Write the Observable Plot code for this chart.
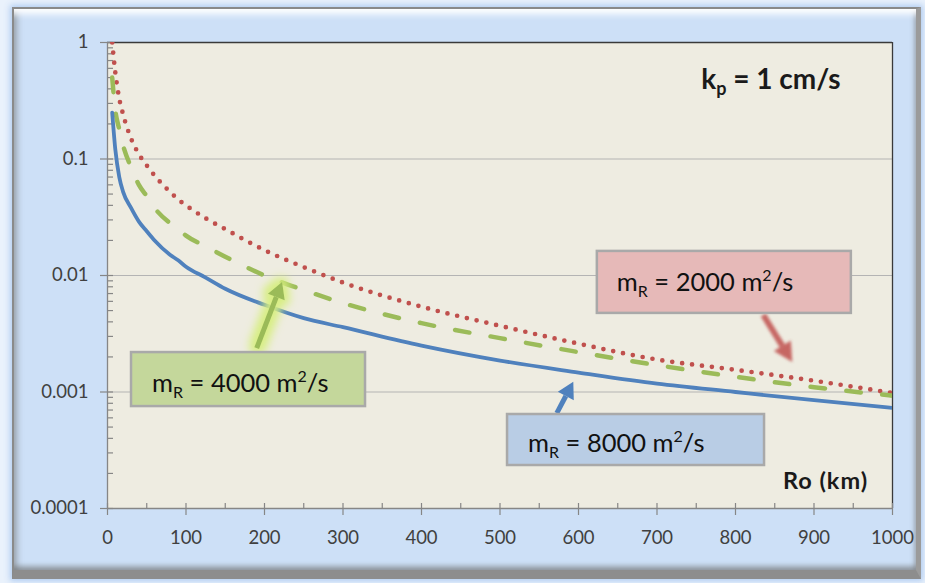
<!DOCTYPE html>
<html>
<head>
<meta charset="utf-8">
<script src="https://cdn.jsdelivr.net/npm/d3@7"></script>
<script src="https://cdn.jsdelivr.net/npm/@observablehq/plot@0.6"></script>
<style>
  html, body { margin: 0; padding: 0; }
  body { width: 925px; height: 583px; background: #eaf2fc; position: relative; overflow: hidden; font-family: Lato, "Open Sans", sans-serif; }
  #frame {
    position: absolute; left: 12px; top: 7px; width: 902px; height: 561px;
    background: #cde0f7;
    border-left: 2px solid #8a8a8a; border-top: 2px solid #8a8a8a;
    border-right: 5px solid #9b9b9b; border-bottom: 9px solid #8d8d8d;
    box-shadow: 0 0 6px 2px rgba(170,200,240,0.9),
      inset 0 11px 7px -6px #ffffff,
      inset 9px 0 6px -6px rgba(110,110,110,0.55),
      inset -5px 0 4px -3px rgba(120,120,120,0.5),
      inset 0 -7px 5px -3px rgba(110,110,110,0.6);
  }
  #chart { position: absolute; left: 0; top: 0; }
</style>
</head>
<body>
<div id="frame"></div>
<div id="chart"></div>
<script>
// ---- data ----
const ro = [6, 10, 15, 20, 30, 40, 50, 60, 80, 90, 100, 125, 150, 200, 250, 300, 400, 500, 600, 700, 800, 900, 1000];
const m8000 = [0.25, 0.12, 0.07, 0.052, 0.038, 0.029, 0.024, 0.02, 0.015, 0.0135, 0.0119, 0.0096, 0.0077, 0.0056, 0.0043, 0.0036, 0.0025, 0.00186, 0.00147, 0.00118, 0.001, 0.00085, 0.00073];
const m4000 = [0.5, 0.26, 0.18, 0.13, 0.085, 0.06, 0.048, 0.038, 0.028, 0.025, 0.022, 0.0178, 0.0145, 0.01, 0.0075, 0.0058, 0.0039, 0.0029, 0.0022, 0.0017, 0.00135, 0.0011, 0.00093];
const m2000 = [1.0, 0.55, 0.33, 0.24, 0.15, 0.11, 0.088, 0.072, 0.052, 0.045, 0.04, 0.031, 0.025, 0.0165, 0.0118, 0.0087, 0.0054, 0.0037, 0.0026, 0.0019, 0.00155, 0.00125, 0.00098];
const seriesNames = ["2000", "4000", "8000"];
const xTicks = [0, 100, 200, 300, 400, 500, 600, 700, 800, 900, 1000];
const xMinorTicks = [50, 150, 250, 350, 450, 550, 650, 750, 850, 950];
const yTicks = [0.0001, 0.001, 0.01, 0.1, 1];
const yTickLabels = ["0.0001", "0.001", "0.01", "0.1", "1"];
const yMinorTicks = [];
for (let e = -4; e < 0; e++) for (let k = 2; k <= 9; k++) yMinorTicks.push(+(k * Math.pow(10, e)).toPrecision(3));
const yGrid = [0.001, 0.01, 0.1];

const rows = [];
ro.forEach((x, i) => {
  rows.push({ro: x, v: m2000[i], s: "2000"});
  rows.push({ro: x, v: m4000[i], s: "4000"});
  rows.push({ro: x, v: m8000[i], s: "8000"});
});

// annotations (anchored in data coordinates)
const labels = [
  {s: "4000", box: [30.6, 0.00218], w: 234, h: 54, fill: "#C4D79B", tx: 21, ty: 40, num: "4000"},
  {s: "2000", box: [624, 0.0161], w: 254, h: 62, fill: "#E6B9B8", tx: 20, ty: 40, num: "2000"},
  {s: "8000", box: [509.6, 0.000641], w: 257, h: 51, fill: "#B9CDE5", tx: 21, ty: 38, num: "8000"}
];
const arrows = [
  {from: [190.7, 0.00236], to: [223, 0.0087], color: "#9BBB59", glow: "green"},
  {from: [836, 0.00454], to: [873, 0.00179], color: "#C0504D", glow: "red"},
  {from: [573, 0.000653], to: [594, 0.00121], color: "#4F81BD", glow: "none"}
];

const font = "Lato, 'Open Sans', sans-serif";
const axisGray = "#868686";
const textColor = "#404040";

const plot = Plot.plot({
  width: 925,
  height: 583,
  marginLeft: 107,
  marginRight: 33,
  marginTop: 42,
  marginBottom: 75,
  style: {background: "transparent", fontFamily: font, overflow: "visible"},
  x: {domain: [0, 1000], label: null},
  y: {type: "log", domain: [0.0001, 1], label: null},
  color: {domain: seriesNames, range: ["#C0504D", "#9BBB59", "#4F81BD"]},
  marks: [
    Plot.frame({fill: "#EEECE1", stroke: "none"}),
    Plot.ruleY(yGrid, {stroke: "#b4b4b4", strokeWidth: 1.2}),
    Plot.ruleY([1], {stroke: "#3a3a3a", strokeWidth: 1.3}),
    Plot.ruleX([1000], {stroke: "#3a3a3a", strokeWidth: 1.3}),
    Plot.ruleX([0], {stroke: axisGray, strokeWidth: 1.3}),
    Plot.ruleY([0.0001], {stroke: axisGray, strokeWidth: 1.3}),
    // y axis ticks
    Plot.axisY({ticks: yTicks, tickSize: 13, dx: 6, text: null, label: null, stroke: axisGray, strokeWidth: 1.2}),
    Plot.axisY({ticks: yMinorTicks, tickSize: 6, dx: 6, text: null, label: null, stroke: axisGray, strokeWidth: 1.2}),
    Plot.axisY({ticks: yTicks, tickSize: 0, tickPadding: 19, tickFormat: (d) => yTickLabels[yTicks.indexOf(d)], fontSize: 18.5, fill: textColor, label: null}),
    // x axis ticks
    Plot.axisX({ticks: xTicks, tickSize: 12, dy: -5, text: null, label: null, stroke: axisGray, strokeWidth: 1.2}),
    Plot.axisX({ticks: xMinorTicks, tickSize: 5, dy: -5, text: null, label: null, stroke: axisGray, strokeWidth: 1.2}),
    Plot.axisX({ticks: xTicks, tickSize: 0, tickPadding: 22, tickFormat: (d) => String(d), fontSize: 18.5, fill: textColor, label: null}),
    // curves
    Plot.line(rows.filter(d => d.s === "2000"), {x: "ro", y: "v", stroke: "s", strokeWidth: 4.7, strokeDasharray: "0 10", strokeLinecap: "round", curve: "monotone-x", clip: true}),
    Plot.line(rows.filter(d => d.s === "4000"), {x: "ro", y: "v", stroke: "s", strokeWidth: 4.5, strokeDasharray: "14.5 21.5", strokeLinecap: "round", curve: "monotone-x", clip: true}),
    Plot.line(rows.filter(d => d.s === "8000"), {x: "ro", y: "v", stroke: "s", strokeWidth: 3.8, curve: "monotone-x", clip: true})
  ]
});

document.getElementById("chart").appendChild(plot);

const sx = plot.scale("x"), sy = plot.scale("y");
const svg = d3.select(plot);
const defs = svg.append("defs");
const gf = defs.append("filter").attr("id", "glowGreen").attr("x", "-80%").attr("y", "-80%").attr("width", "260%").attr("height", "260%");
gf.append("feMorphology").attr("in", "SourceAlpha").attr("operator", "dilate").attr("radius", 5).attr("result", "d");
gf.append("feGaussianBlur").attr("in", "d").attr("stdDeviation", 4.5).attr("result", "b");
gf.append("feFlood").attr("flood-color", "#d6ee7e").attr("flood-opacity", 0.95);
gf.append("feComposite").attr("in2", "b").attr("operator", "in").attr("result", "g");
const gm = gf.append("feMerge"); gm.append("feMergeNode").attr("in", "g"); gm.append("feMergeNode").attr("in", "SourceGraphic");
const rf = defs.append("filter").attr("id", "blurRed").attr("x", "-50%").attr("y", "-50%").attr("width", "200%").attr("height", "200%");
rf.append("feGaussianBlur").attr("in", "SourceGraphic").attr("stdDeviation", 1.8);

const ann = svg.append("g").attr("font-family", font).attr("text-anchor", "start");

arrows.forEach(a => {
  const x1 = sx.apply(a.from[0]), y1 = sy.apply(a.from[1]);
  const x2 = sx.apply(a.to[0]), y2 = sy.apply(a.to[1]);
  const ang = Math.atan2(y2 - y1, x2 - x1);
  const hl = a.glow === "red" ? 19 : 16, hw = a.glow === "red" ? 10 : 9;
  const bx = x2 - hl * Math.cos(ang), by = y2 - hl * Math.sin(ang);
  const px = -Math.sin(ang), py = Math.cos(ang);
  const g = ann.append("g");
  if (a.glow === "green") g.attr("filter", "url(#glowGreen)");
  if (a.glow === "red") g.attr("filter", "url(#blurRed)").attr("opacity", 0.85);
  g.append("line").attr("x1", x1).attr("y1", y1).attr("x2", bx).attr("y2", by)
    .attr("stroke", a.color).attr("stroke-width", a.glow === "red" ? 6 : 5);
  g.append("path").attr("d", `M${x2},${y2}L${bx + hw * px},${by + hw * py}L${bx - hw * px},${by - hw * py}Z`).attr("fill", a.color);
});

labels.forEach(l => {
  const x = sx.apply(l.box[0]), y = sy.apply(l.box[1]);
  ann.append("rect").attr("x", x).attr("y", y).attr("width", l.w).attr("height", l.h)
    .attr("fill", l.fill).attr("stroke", "#a9a9a9").attr("stroke-width", 2.5);
  const t = ann.append("text").attr("x", x + l.tx).attr("y", y + l.ty).attr("font-size", 25.5).attr("fill", "#111");
  t.append("tspan").text("m");
  t.append("tspan").attr("font-size", 16).attr("dy", 6).text("R");
  t.append("tspan").attr("dy", -6).text(" = " + l.num + " m");
  t.append("tspan").attr("font-size", 16).attr("dy", -10).text("2");
  t.append("tspan").attr("dy", 10).text("/s");
});

// k_p label
{
  const t = ann.append("text").attr("x", sx.apply(757)).attr("y", sy.apply(0.395)).attr("font-size", 28).attr("font-weight", "bold").attr("fill", "#1a1a1a");
  t.append("tspan").text("k");
  t.append("tspan").attr("font-size", 18).attr("dy", 6).text("p");
  t.append("tspan").attr("dy", -6).text(" = 1 cm/s");
}
ann.append("text").attr("x", sx.apply(861)).attr("y", sy.apply(0.000146)).attr("font-size", 23.5).attr("font-weight", "bold").attr("letter-spacing", 1).attr("fill", "#1a1a1a").text("Ro (km)");
</script>
</body>
</html>
